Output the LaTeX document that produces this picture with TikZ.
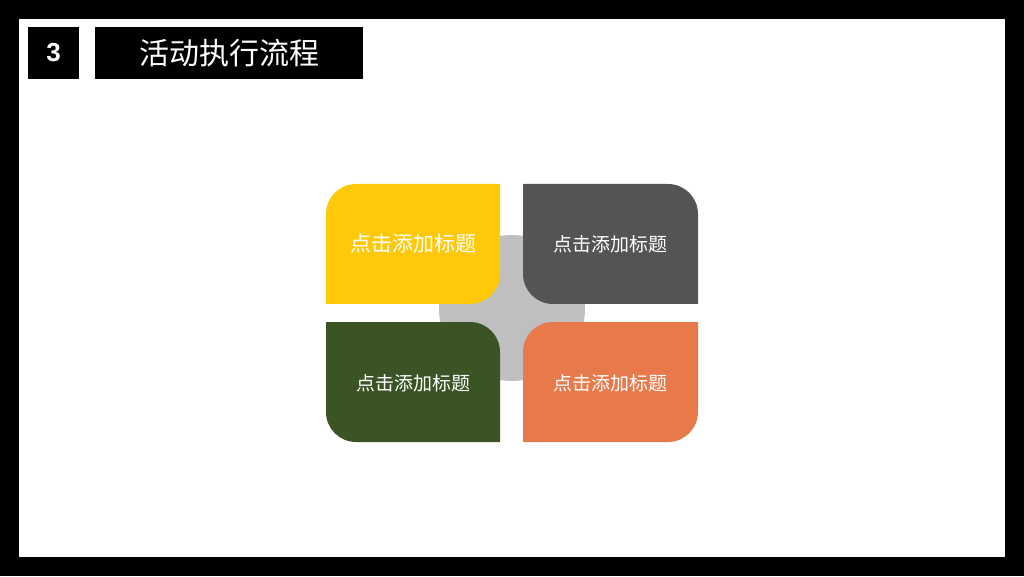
\documentclass[tikz,border=0pt]{standalone}
\usepackage{fontspec}
\newfontfamily\cjk{Noto Sans CJK SC}
\newfontfamily\numfont{Liberation Sans}
\definecolor{tileyellow}{HTML}{FFC90A}
\definecolor{tilegray}{HTML}{545454}
\definecolor{tilegreen}{HTML}{3B5425}
\definecolor{tileorange}{HTML}{E8794A}
\definecolor{hubgray}{HTML}{BFBFBF}
\begin{document}
\begin{tikzpicture}[x=1pt, y=1pt, label text/.style={text=white, font=\cjk\fontsize{19}{19}\selectfont}]
        \tikzstyle{every node}=[inner sep=0pt]

          \fill[black] (0,0) rectangle (1024,576);
          \fill[white] (19,19) rectangle (1005,557);

          \fill[black] (28,497) rectangle (79,549);
          \fill[black] (95,497) rectangle (363,549);
          \node[text=white, font=\numfont\bfseries\fontsize{26}{26}\selectfont] (num) at (53.5,523) {3};
          \node[text=white, font=\cjk\fontsize{30}{30}\selectfont] (title) at (229,523) {活动执行流程};

          \fill[hubgray] (512,268) circle (73);

          \fill[tileyellow] (326,272) -- (326,362) arc[start angle=180, end angle=90, radius=30]
               	-- (500,392) -- (500,302) arc[start angle=0, end angle=-90, radius=30] -- cycle;
          \fill[tilegray] (523,392) -- (668,392) arc[start angle=90, end angle=0, radius=30]
               	-- (698,272) -- (553,272) arc[start angle=270, end angle=180, radius=30] -- cycle;
          \fill[tilegreen] (326,254) -- (470,254) arc[start angle=90, end angle=0, radius=30]
               	-- (500,134) -- (356,134) arc[start angle=270, end angle=180, radius=30] -- cycle;
          \fill[tileorange] (523,134) -- (523,224) arc[start angle=180, end angle=90, radius=30]
               	-- (698,254) -- (698,164) arc[start angle=0, end angle=-90, radius=30] -- cycle;

          \node[label text, font=\cjk\fontsize{21}{21}\selectfont] (t1) at (413,332) {点击添加标题};
          \node[label text] (t2) at (610.5,332) {点击添加标题};
          \node[label text] (t3) at (413,193) {点击添加标题};
          \node[label text] (t4) at (610.5,193) {点击添加标题};

        \end{tikzpicture}
\end{document}
